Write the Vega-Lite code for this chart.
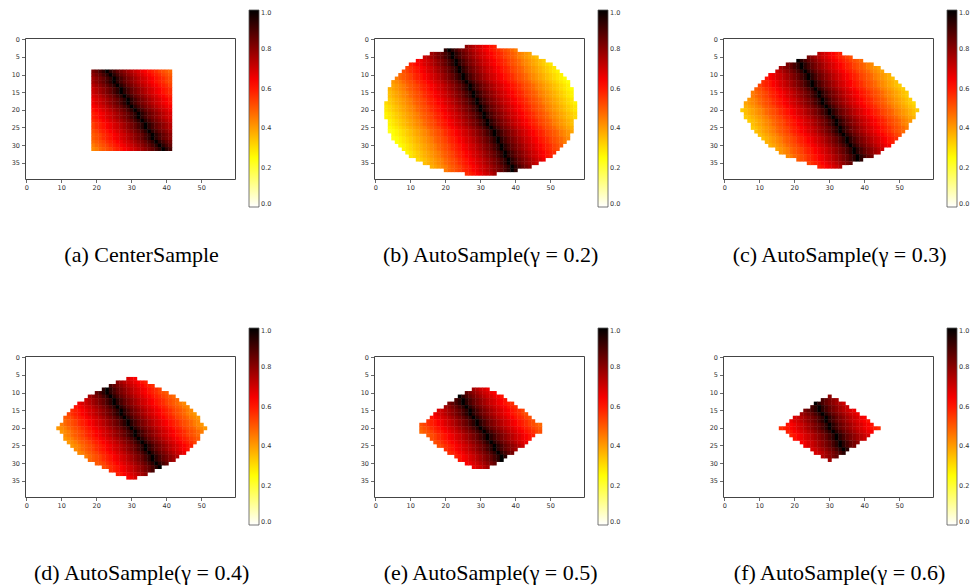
{
"$schema": "https://vega.github.io/schema/vega-lite/v6.json",
"background": "white",
"padding": {"left": 10, "top": 9, "right": 0, "bottom": 0},
"config": {
"view": {"stroke": "#444", "strokeWidth": 1},
"axis": {"domain": false, "grid": false, "labelFont": "DejaVu Sans", "labelFontSize": 6.5, "labelColor": "#333", "tickColor": "#444", "tickSize": 3.5, "tickWidth": 0.8, "labelPadding": 2},
"axisX": {"labelAngle": 0},
"legend": {"labelFont": "DejaVu Sans", "labelFontSize": 6.5, "labelColor": "#333", "gradientStrokeColor": "#555", "gradientStrokeWidth": 0.8, "labelOffset": 4, "padding": 0},
"title": {"font": "Liberation Serif", "fontSize": 22, "fontWeight": "normal", "color": "#000", "orient": "bottom", "anchor": "middle", "frame": "bounds", "offset": 37}
},
"datasets": {
"a": [
{"y":9,"v":[0,0,0,0,0,0,0,0,0,0,0,0,0,0,0,0,0,0,83,86,90,94,100,94,90,86,83,80,77,74,71,69,66,64,61,59,57,54,52,50,48]},
{"y":10,"v":[0,0,0,0,0,0,0,0,0,0,0,0,0,0,0,0,0,0,80,83,86,90,94,100,94,90,86,83,80,77,74,71,69,66,64,61,59,57,54,52,50]},
{"y":11,"v":[0,0,0,0,0,0,0,0,0,0,0,0,0,0,0,0,0,0,77,80,83,86,90,94,100,94,90,86,83,80,77,74,71,69,66,64,61,59,57,54,52]},
{"y":12,"v":[0,0,0,0,0,0,0,0,0,0,0,0,0,0,0,0,0,0,77,80,83,86,90,94,100,94,90,86,83,80,77,74,71,69,66,64,61,59,57,54,52]},
{"y":13,"v":[0,0,0,0,0,0,0,0,0,0,0,0,0,0,0,0,0,0,74,77,80,83,86,90,94,100,94,90,86,83,80,77,74,71,69,66,64,61,59,57,54]},
{"y":14,"v":[0,0,0,0,0,0,0,0,0,0,0,0,0,0,0,0,0,0,71,74,77,80,83,86,90,94,100,94,90,86,83,80,77,74,71,69,66,64,61,59,57]},
{"y":15,"v":[0,0,0,0,0,0,0,0,0,0,0,0,0,0,0,0,0,0,71,74,77,80,83,86,90,94,100,94,90,86,83,80,77,74,71,69,66,64,61,59,57]},
{"y":16,"v":[0,0,0,0,0,0,0,0,0,0,0,0,0,0,0,0,0,0,69,71,74,77,80,83,86,90,94,100,94,90,86,83,80,77,74,71,69,66,64,61,59]},
{"y":17,"v":[0,0,0,0,0,0,0,0,0,0,0,0,0,0,0,0,0,0,66,69,71,74,77,80,83,86,90,94,100,94,90,86,83,80,77,74,71,69,66,64,61]},
{"y":18,"v":[0,0,0,0,0,0,0,0,0,0,0,0,0,0,0,0,0,0,66,69,71,74,77,80,83,86,90,94,100,94,90,86,83,80,77,74,71,69,66,64,61]},
{"y":19,"v":[0,0,0,0,0,0,0,0,0,0,0,0,0,0,0,0,0,0,64,66,69,71,74,77,80,83,86,90,94,100,94,90,86,83,80,77,74,71,69,66,64]},
{"y":20,"v":[0,0,0,0,0,0,0,0,0,0,0,0,0,0,0,0,0,0,61,64,66,69,71,74,77,80,83,86,90,94,100,94,90,86,83,80,77,74,71,69,66]},
{"y":21,"v":[0,0,0,0,0,0,0,0,0,0,0,0,0,0,0,0,0,0,59,61,64,66,69,71,74,77,80,83,86,90,94,100,94,90,86,83,80,77,74,71,69]},
{"y":22,"v":[0,0,0,0,0,0,0,0,0,0,0,0,0,0,0,0,0,0,59,61,64,66,69,71,74,77,80,83,86,90,94,100,94,90,86,83,80,77,74,71,69]},
{"y":23,"v":[0,0,0,0,0,0,0,0,0,0,0,0,0,0,0,0,0,0,57,59,61,64,66,69,71,74,77,80,83,86,90,94,100,94,90,86,83,80,77,74,71]},
{"y":24,"v":[0,0,0,0,0,0,0,0,0,0,0,0,0,0,0,0,0,0,54,57,59,61,64,66,69,71,74,77,80,83,86,90,94,100,94,90,86,83,80,77,74]},
{"y":25,"v":[0,0,0,0,0,0,0,0,0,0,0,0,0,0,0,0,0,0,54,57,59,61,64,66,69,71,74,77,80,83,86,90,94,100,94,90,86,83,80,77,74]},
{"y":26,"v":[0,0,0,0,0,0,0,0,0,0,0,0,0,0,0,0,0,0,52,54,57,59,61,64,66,69,71,74,77,80,83,86,90,94,100,94,90,86,83,80,77]},
{"y":27,"v":[0,0,0,0,0,0,0,0,0,0,0,0,0,0,0,0,0,0,50,52,54,57,59,61,64,66,69,71,74,77,80,83,86,90,94,100,94,90,86,83,80]},
{"y":28,"v":[0,0,0,0,0,0,0,0,0,0,0,0,0,0,0,0,0,0,50,52,54,57,59,61,64,66,69,71,74,77,80,83,86,90,94,100,94,90,86,83,80]},
{"y":29,"v":[0,0,0,0,0,0,0,0,0,0,0,0,0,0,0,0,0,0,48,50,52,54,57,59,61,64,66,69,71,74,77,80,83,86,90,94,100,94,90,86,83]},
{"y":30,"v":[0,0,0,0,0,0,0,0,0,0,0,0,0,0,0,0,0,0,45,48,50,52,54,57,59,61,64,66,69,71,74,77,80,83,86,90,94,100,94,90,86]},
{"y":31,"v":[0,0,0,0,0,0,0,0,0,0,0,0,0,0,0,0,0,0,43,45,48,50,52,54,57,59,61,64,66,69,71,74,77,80,83,86,90,94,100,94,90]}
],
"b": [
{"y":2,"v":[0,0,0,0,0,0,0,0,0,0,0,0,0,0,0,0,0,0,0,0,0,0,0,0,0,80,77,74,71,69,66,64,61,59]},
{"y":3,"v":[0,0,0,0,0,0,0,0,0,0,0,0,0,0,0,0,0,0,0,94,100,94,90,86,83,80,77,74,71,69,66,64,61,59,57,54,52,50,48,45]},
{"y":4,"v":[0,0,0,0,0,0,0,0,0,0,0,0,0,0,0,77,80,83,86,90,94,100,94,90,86,83,80,77,74,71,69,66,64,61,59,57,54,52,50,48,45,43,41,39]},
{"y":5,"v":[0,0,0,0,0,0,0,0,0,0,0,0,0,71,74,77,80,83,86,90,94,100,94,90,86,83,80,77,74,71,69,66,64,61,59,57,54,52,50,48,45,43,41,39,37,35]},
{"y":6,"v":[0,0,0,0,0,0,0,0,0,0,0,64,66,69,71,74,77,80,83,86,90,94,100,94,90,86,83,80,77,74,71,69,66,64,61,59,57,54,52,50,48,45,43,41,39,37,35,33]},
{"y":7,"v":[0,0,0,0,0,0,0,0,0,59,61,64,66,69,71,74,77,80,83,86,90,94,100,94,90,86,83,80,77,74,71,69,66,64,61,59,57,54,52,50,48,45,43,41,39,37,35,33,31,29]},
{"y":8,"v":[0,0,0,0,0,0,0,0,54,57,59,61,64,66,69,71,74,77,80,83,86,90,94,100,94,90,86,83,80,77,74,71,69,66,64,61,59,57,54,52,50,48,45,43,41,39,37,35,33,31,29]},
{"y":9,"v":[0,0,0,0,0,0,0,52,54,57,59,61,64,66,69,71,74,77,80,83,86,90,94,100,94,90,86,83,80,77,74,71,69,66,64,61,59,57,54,52,50,48,45,43,41,39,37,35,33,31,29,27]},
{"y":10,"v":[0,0,0,0,0,0,48,50,52,54,57,59,61,64,66,69,71,74,77,80,83,86,90,94,100,94,90,86,83,80,77,74,71,69,66,64,61,59,57,54,52,50,48,45,43,41,39,37,35,33,31,29,27]},
{"y":11,"v":[0,0,0,0,0,45,48,50,52,54,57,59,61,64,66,69,71,74,77,80,83,86,90,94,100,94,90,86,83,80,77,74,71,69,66,64,61,59,57,54,52,50,48,45,43,41,39,37,35,33,31,29,27,25]},
{"y":12,"v":[0,0,0,0,41,43,45,48,50,52,54,57,59,61,64,66,69,71,74,77,80,83,86,90,94,100,94,90,86,83,80,77,74,71,69,66,64,61,59,57,54,52,50,48,45,43,41,39,37,35,33,31,29,27,25]},
{"y":13,"v":[0,0,0,0,39,41,43,45,48,50,52,54,57,59,61,64,66,69,71,74,77,80,83,86,90,94,100,94,90,86,83,80,77,74,71,69,66,64,61,59,57,54,52,50,48,45,43,41,39,37,35,33,31,29,27]},
{"y":14,"v":[0,0,0,37,39,41,43,45,48,50,52,54,57,59,61,64,66,69,71,74,77,80,83,86,90,94,100,94,90,86,83,80,77,74,71,69,66,64,61,59,57,54,52,50,48,45,43,41,39,37,35,33,31,29,27,25]},
{"y":15,"v":[0,0,0,35,37,39,41,43,45,48,50,52,54,57,59,61,64,66,69,71,74,77,80,83,86,90,94,100,94,90,86,83,80,77,74,71,69,66,64,61,59,57,54,52,50,48,45,43,41,39,37,35,33,31,29,27]},
{"y":16,"v":[0,0,0,35,37,39,41,43,45,48,50,52,54,57,59,61,64,66,69,71,74,77,80,83,86,90,94,100,94,90,86,83,80,77,74,71,69,66,64,61,59,57,54,52,50,48,45,43,41,39,37,35,33,31,29,27]},
{"y":17,"v":[0,0,0,33,35,37,39,41,43,45,48,50,52,54,57,59,61,64,66,69,71,74,77,80,83,86,90,94,100,94,90,86,83,80,77,74,71,69,66,64,61,59,57,54,52,50,48,45,43,41,39,37,35,33,31,29]},
{"y":18,"v":[0,0,31,33,35,37,39,41,43,45,48,50,52,54,57,59,61,64,66,69,71,74,77,80,83,86,90,94,100,94,90,86,83,80,77,74,71,69,66,64,61,59,57,54,52,50,48,45,43,41,39,37,35,33,31,29,27]},
{"y":19,"v":[0,0,29,31,33,35,37,39,41,43,45,48,50,52,54,57,59,61,64,66,69,71,74,77,80,83,86,90,94,100,94,90,86,83,80,77,74,71,69,66,64,61,59,57,54,52,50,48,45,43,41,39,37,35,33,31,29]},
{"y":20,"v":[0,0,29,31,33,35,37,39,41,43,45,48,50,52,54,57,59,61,64,66,69,71,74,77,80,83,86,90,94,100,94,90,86,83,80,77,74,71,69,66,64,61,59,57,54,52,50,48,45,43,41,39,37,35,33,31,29]},
{"y":21,"v":[0,0,27,29,31,33,35,37,39,41,43,45,48,50,52,54,57,59,61,64,66,69,71,74,77,80,83,86,90,94,100,94,90,86,83,80,77,74,71,69,66,64,61,59,57,54,52,50,48,45,43,41,39,37,35,33,31]},
{"y":22,"v":[0,0,27,29,31,33,35,37,39,41,43,45,48,50,52,54,57,59,61,64,66,69,71,74,77,80,83,86,90,94,100,94,90,86,83,80,77,74,71,69,66,64,61,59,57,54,52,50,48,45,43,41,39,37,35,33,31]},
{"y":23,"v":[0,0,0,27,29,31,33,35,37,39,41,43,45,48,50,52,54,57,59,61,64,66,69,71,74,77,80,83,86,90,94,100,94,90,86,83,80,77,74,71,69,66,64,61,59,57,54,52,50,48,45,43,41,39,37,35]},
{"y":24,"v":[0,0,0,27,29,31,33,35,37,39,41,43,45,48,50,52,54,57,59,61,64,66,69,71,74,77,80,83,86,90,94,100,94,90,86,83,80,77,74,71,69,66,64,61,59,57,54,52,50,48,45,43,41,39,37,35]},
{"y":25,"v":[0,0,0,25,27,29,31,33,35,37,39,41,43,45,48,50,52,54,57,59,61,64,66,69,71,74,77,80,83,86,90,94,100,94,90,86,83,80,77,74,71,69,66,64,61,59,57,54,52,50,48,45,43,41,39,37]},
{"y":26,"v":[0,0,0,23,25,27,29,31,33,35,37,39,41,43,45,48,50,52,54,57,59,61,64,66,69,71,74,77,80,83,86,90,94,100,94,90,86,83,80,77,74,71,69,66,64,61,59,57,54,52,50,48,45,43,41,39]},
{"y":27,"v":[0,0,0,0,25,27,29,31,33,35,37,39,41,43,45,48,50,52,54,57,59,61,64,66,69,71,74,77,80,83,86,90,94,100,94,90,86,83,80,77,74,71,69,66,64,61,59,57,54,52,50,48,45,43,41]},
{"y":28,"v":[0,0,0,0,23,25,27,29,31,33,35,37,39,41,43,45,48,50,52,54,57,59,61,64,66,69,71,74,77,80,83,86,90,94,100,94,90,86,83,80,77,74,71,69,66,64,61,59,57,54,52,50,48,45,43]},
{"y":29,"v":[0,0,0,0,0,25,27,29,31,33,35,37,39,41,43,45,48,50,52,54,57,59,61,64,66,69,71,74,77,80,83,86,90,94,100,94,90,86,83,80,77,74,71,69,66,64,61,59,57,54,52,50,48,45]},
{"y":30,"v":[0,0,0,0,0,0,25,27,29,31,33,35,37,39,41,43,45,48,50,52,54,57,59,61,64,66,69,71,74,77,80,83,86,90,94,100,94,90,86,83,80,77,74,71,69,66,64,61,59,57,54,52,50]},
{"y":31,"v":[0,0,0,0,0,0,0,27,29,31,33,35,37,39,41,43,45,48,50,52,54,57,59,61,64,66,69,71,74,77,80,83,86,90,94,100,94,90,86,83,80,77,74,71,69,66,64,61,59,57,54,52]},
{"y":32,"v":[0,0,0,0,0,0,0,0,27,29,31,33,35,37,39,41,43,45,48,50,52,54,57,59,61,64,66,69,71,74,77,80,83,86,90,94,100,94,90,86,83,80,77,74,71,69,66,64,61,59,57]},
{"y":33,"v":[0,0,0,0,0,0,0,0,0,29,31,33,35,37,39,41,43,45,48,50,52,54,57,59,61,64,66,69,71,74,77,80,83,86,90,94,100,94,90,86,83,80,77,74,71,69,66,64,61,59]},
{"y":34,"v":[0,0,0,0,0,0,0,0,0,0,0,31,33,35,37,39,41,43,45,48,50,52,54,57,59,61,64,66,69,71,74,77,80,83,86,90,94,100,94,90,86,83,80,77,74,71,69,66]},
{"y":35,"v":[0,0,0,0,0,0,0,0,0,0,0,0,0,35,37,39,41,43,45,48,50,52,54,57,59,61,64,66,69,71,74,77,80,83,86,90,94,100,94,90,86,83,80,77,74,71]},
{"y":36,"v":[0,0,0,0,0,0,0,0,0,0,0,0,0,0,0,37,39,41,43,45,48,50,52,54,57,59,61,64,66,69,71,74,77,80,83,86,90,94,100,94,90,86,83,80]},
{"y":37,"v":[0,0,0,0,0,0,0,0,0,0,0,0,0,0,0,0,0,0,0,45,48,50,52,54,57,59,61,64,66,69,71,74,77,80,83,86,90,94,100,94]},
{"y":38,"v":[0,0,0,0,0,0,0,0,0,0,0,0,0,0,0,0,0,0,0,0,0,0,0,0,0,57,59,61,64,66,69,71,74,77]}
],
"c": [
{"y":4,"v":[0,0,0,0,0,0,0,0,0,0,0,0,0,0,0,0,0,0,0,0,0,0,0,0,0,0,74,71,69,66,64,61,59]},
{"y":5,"v":[0,0,0,0,0,0,0,0,0,0,0,0,0,0,0,0,0,0,0,0,0,0,0,83,80,77,74,71,69,66,64,61,59,57,54,52]},
{"y":6,"v":[0,0,0,0,0,0,0,0,0,0,0,0,0,0,0,0,0,0,0,0,100,94,90,86,83,80,77,74,71,69,66,64,61,59,57,54,52,50,48]},
{"y":7,"v":[0,0,0,0,0,0,0,0,0,0,0,0,0,0,0,0,0,83,86,90,94,100,94,90,86,83,80,77,74,71,69,66,64,61,59,57,54,52,50,48,45,43]},
{"y":8,"v":[0,0,0,0,0,0,0,0,0,0,0,0,0,0,0,77,80,83,86,90,94,100,94,90,86,83,80,77,74,71,69,66,64,61,59,57,54,52,50,48,45,43,41,39]},
{"y":9,"v":[0,0,0,0,0,0,0,0,0,0,0,0,0,0,71,74,77,80,83,86,90,94,100,94,90,86,83,80,77,74,71,69,66,64,61,59,57,54,52,50,48,45,43,41,39]},
{"y":10,"v":[0,0,0,0,0,0,0,0,0,0,0,0,64,66,69,71,74,77,80,83,86,90,94,100,94,90,86,83,80,77,74,71,69,66,64,61,59,57,54,52,50,48,45,43,41,39,37]},
{"y":11,"v":[0,0,0,0,0,0,0,0,0,0,0,61,64,66,69,71,74,77,80,83,86,90,94,100,94,90,86,83,80,77,74,71,69,66,64,61,59,57,54,52,50,48,45,43,41,39,37,35]},
{"y":12,"v":[0,0,0,0,0,0,0,0,0,0,57,59,61,64,66,69,71,74,77,80,83,86,90,94,100,94,90,86,83,80,77,74,71,69,66,64,61,59,57,54,52,50,48,45,43,41,39,37,35]},
{"y":13,"v":[0,0,0,0,0,0,0,0,0,54,57,59,61,64,66,69,71,74,77,80,83,86,90,94,100,94,90,86,83,80,77,74,71,69,66,64,61,59,57,54,52,50,48,45,43,41,39,37,35,33]},
{"y":14,"v":[0,0,0,0,0,0,0,0,50,52,54,57,59,61,64,66,69,71,74,77,80,83,86,90,94,100,94,90,86,83,80,77,74,71,69,66,64,61,59,57,54,52,50,48,45,43,41,39,37,35,33]},
{"y":15,"v":[0,0,0,0,0,0,0,45,48,50,52,54,57,59,61,64,66,69,71,74,77,80,83,86,90,94,100,94,90,86,83,80,77,74,71,69,66,64,61,59,57,54,52,50,48,45,43,41,39,37,35,33]},
{"y":16,"v":[0,0,0,0,0,0,0,45,48,50,52,54,57,59,61,64,66,69,71,74,77,80,83,86,90,94,100,94,90,86,83,80,77,74,71,69,66,64,61,59,57,54,52,50,48,45,43,41,39,37,35,33]},
{"y":17,"v":[0,0,0,0,0,0,41,43,45,48,50,52,54,57,59,61,64,66,69,71,74,77,80,83,86,90,94,100,94,90,86,83,80,77,74,71,69,66,64,61,59,57,54,52,50,48,45,43,41,39,37,35,33]},
{"y":18,"v":[0,0,0,0,0,39,41,43,45,48,50,52,54,57,59,61,64,66,69,71,74,77,80,83,86,90,94,100,94,90,86,83,80,77,74,71,69,66,64,61,59,57,54,52,50,48,45,43,41,39,37,35,33,31]},
{"y":19,"v":[0,0,0,0,0,37,39,41,43,45,48,50,52,54,57,59,61,64,66,69,71,74,77,80,83,86,90,94,100,94,90,86,83,80,77,74,71,69,66,64,61,59,57,54,52,50,48,45,43,41,39,37,35,33]},
{"y":20,"v":[0,0,0,0,33,35,37,39,41,43,45,48,50,52,54,57,59,61,64,66,69,71,74,77,80,83,86,90,94,100,94,90,86,83,80,77,74,71,69,66,64,61,59,57,54,52,50,48,45,43,41,39,37,35,33]},
{"y":21,"v":[0,0,0,0,0,35,37,39,41,43,45,48,50,52,54,57,59,61,64,66,69,71,74,77,80,83,86,90,94,100,94,90,86,83,80,77,74,71,69,66,64,61,59,57,54,52,50,48,45,43,41,39,37,35]},
{"y":22,"v":[0,0,0,0,0,33,35,37,39,41,43,45,48,50,52,54,57,59,61,64,66,69,71,74,77,80,83,86,90,94,100,94,90,86,83,80,77,74,71,69,66,64,61,59,57,54,52,50,48,45,43,41,39,37]},
{"y":23,"v":[0,0,0,0,0,0,33,35,37,39,41,43,45,48,50,52,54,57,59,61,64,66,69,71,74,77,80,83,86,90,94,100,94,90,86,83,80,77,74,71,69,66,64,61,59,57,54,52,50,48,45,43,41]},
{"y":24,"v":[0,0,0,0,0,0,0,35,37,39,41,43,45,48,50,52,54,57,59,61,64,66,69,71,74,77,80,83,86,90,94,100,94,90,86,83,80,77,74,71,69,66,64,61,59,57,54,52,50,48,45,43]},
{"y":25,"v":[0,0,0,0,0,0,0,33,35,37,39,41,43,45,48,50,52,54,57,59,61,64,66,69,71,74,77,80,83,86,90,94,100,94,90,86,83,80,77,74,71,69,66,64,61,59,57,54,52,50,48,45]},
{"y":26,"v":[0,0,0,0,0,0,0,0,35,37,39,41,43,45,48,50,52,54,57,59,61,64,66,69,71,74,77,80,83,86,90,94,100,94,90,86,83,80,77,74,71,69,66,64,61,59,57,54,52,50,48]},
{"y":27,"v":[0,0,0,0,0,0,0,0,0,35,37,39,41,43,45,48,50,52,54,57,59,61,64,66,69,71,74,77,80,83,86,90,94,100,94,90,86,83,80,77,74,71,69,66,64,61,59,57,54,52]},
{"y":28,"v":[0,0,0,0,0,0,0,0,0,0,35,37,39,41,43,45,48,50,52,54,57,59,61,64,66,69,71,74,77,80,83,86,90,94,100,94,90,86,83,80,77,74,71,69,66,64,61,59,57]},
{"y":29,"v":[0,0,0,0,0,0,0,0,0,0,0,37,39,41,43,45,48,50,52,54,57,59,61,64,66,69,71,74,77,80,83,86,90,94,100,94,90,86,83,80,77,74,71,69,66,64,61,59]},
{"y":30,"v":[0,0,0,0,0,0,0,0,0,0,0,0,37,39,41,43,45,48,50,52,54,57,59,61,64,66,69,71,74,77,80,83,86,90,94,100,94,90,86,83,80,77,74,71,69,66,64]},
{"y":31,"v":[0,0,0,0,0,0,0,0,0,0,0,0,0,0,39,41,43,45,48,50,52,54,57,59,61,64,66,69,71,74,77,80,83,86,90,94,100,94,90,86,83,80,77,74,71]},
{"y":32,"v":[0,0,0,0,0,0,0,0,0,0,0,0,0,0,0,41,43,45,48,50,52,54,57,59,61,64,66,69,71,74,77,80,83,86,90,94,100,94,90,86,83,80,77,74]},
{"y":33,"v":[0,0,0,0,0,0,0,0,0,0,0,0,0,0,0,0,0,43,45,48,50,52,54,57,59,61,64,66,69,71,74,77,80,83,86,90,94,100,94,90,86,83]},
{"y":34,"v":[0,0,0,0,0,0,0,0,0,0,0,0,0,0,0,0,0,0,0,0,50,52,54,57,59,61,64,66,69,71,74,77,80,83,86,90,94,100,94]},
{"y":35,"v":[0,0,0,0,0,0,0,0,0,0,0,0,0,0,0,0,0,0,0,0,0,0,0,54,57,59,61,64,66,69,71,74,77,80,83,86]},
{"y":36,"v":[0,0,0,0,0,0,0,0,0,0,0,0,0,0,0,0,0,0,0,0,0,0,0,0,0,0,59,61,64,66,69,71,74]}
],
"d": [
{"y":6,"v":[0,0,0,0,0,0,0,0,0,0,0,0,0,0,0,0,0,0,0,0,0,0,0,0,0,0,0,0,69,66,64]},
{"y":7,"v":[0,0,0,0,0,0,0,0,0,0,0,0,0,0,0,0,0,0,0,0,0,0,0,0,0,80,77,74,71,69,66,64,61,59]},
{"y":8,"v":[0,0,0,0,0,0,0,0,0,0,0,0,0,0,0,0,0,0,0,0,0,0,0,90,86,83,80,77,74,71,69,66,64,61,59,57]},
{"y":9,"v":[0,0,0,0,0,0,0,0,0,0,0,0,0,0,0,0,0,0,0,0,0,94,100,94,90,86,83,80,77,74,71,69,66,64,61,59,57,54]},
{"y":10,"v":[0,0,0,0,0,0,0,0,0,0,0,0,0,0,0,0,0,0,0,86,90,94,100,94,90,86,83,80,77,74,71,69,66,64,61,59,57,54,52,50]},
{"y":11,"v":[0,0,0,0,0,0,0,0,0,0,0,0,0,0,0,0,0,77,80,83,86,90,94,100,94,90,86,83,80,77,74,71,69,66,64,61,59,57,54,52,50,48]},
{"y":12,"v":[0,0,0,0,0,0,0,0,0,0,0,0,0,0,0,0,71,74,77,80,83,86,90,94,100,94,90,86,83,80,77,74,71,69,66,64,61,59,57,54,52,50,48]},
{"y":13,"v":[0,0,0,0,0,0,0,0,0,0,0,0,0,0,66,69,71,74,77,80,83,86,90,94,100,94,90,86,83,80,77,74,71,69,66,64,61,59,57,54,52,50,48,45,43]},
{"y":14,"v":[0,0,0,0,0,0,0,0,0,0,0,0,0,61,64,66,69,71,74,77,80,83,86,90,94,100,94,90,86,83,80,77,74,71,69,66,64,61,59,57,54,52,50,48,45,43]},
{"y":15,"v":[0,0,0,0,0,0,0,0,0,0,0,0,57,59,61,64,66,69,71,74,77,80,83,86,90,94,100,94,90,86,83,80,77,74,71,69,66,64,61,59,57,54,52,50,48,45,43]},
{"y":16,"v":[0,0,0,0,0,0,0,0,0,0,0,54,57,59,61,64,66,69,71,74,77,80,83,86,90,94,100,94,90,86,83,80,77,74,71,69,66,64,61,59,57,54,52,50,48,45,43,41]},
{"y":17,"v":[0,0,0,0,0,0,0,0,0,0,50,52,54,57,59,61,64,66,69,71,74,77,80,83,86,90,94,100,94,90,86,83,80,77,74,71,69,66,64,61,59,57,54,52,50,48,45,43,41]},
{"y":18,"v":[0,0,0,0,0,0,0,0,0,0,48,50,52,54,57,59,61,64,66,69,71,74,77,80,83,86,90,94,100,94,90,86,83,80,77,74,71,69,66,64,61,59,57,54,52,50,48,45,43]},
{"y":19,"v":[0,0,0,0,0,0,0,0,0,45,48,50,52,54,57,59,61,64,66,69,71,74,77,80,83,86,90,94,100,94,90,86,83,80,77,74,71,69,66,64,61,59,57,54,52,50,48,45,43,41]},
{"y":20,"v":[0,0,0,0,0,0,0,0,41,43,45,48,50,52,54,57,59,61,64,66,69,71,74,77,80,83,86,90,94,100,94,90,86,83,80,77,74,71,69,66,64,61,59,57,54,52,50,48,45,43,41]},
{"y":21,"v":[0,0,0,0,0,0,0,0,0,41,43,45,48,50,52,54,57,59,61,64,66,69,71,74,77,80,83,86,90,94,100,94,90,86,83,80,77,74,71,69,66,64,61,59,57,54,52,50,48,45]},
{"y":22,"v":[0,0,0,0,0,0,0,0,0,0,43,45,48,50,52,54,57,59,61,64,66,69,71,74,77,80,83,86,90,94,100,94,90,86,83,80,77,74,71,69,66,64,61,59,57,54,52,50,48]},
{"y":23,"v":[0,0,0,0,0,0,0,0,0,0,41,43,45,48,50,52,54,57,59,61,64,66,69,71,74,77,80,83,86,90,94,100,94,90,86,83,80,77,74,71,69,66,64,61,59,57,54,52,50]},
{"y":24,"v":[0,0,0,0,0,0,0,0,0,0,0,41,43,45,48,50,52,54,57,59,61,64,66,69,71,74,77,80,83,86,90,94,100,94,90,86,83,80,77,74,71,69,66,64,61,59,57,54]},
{"y":25,"v":[0,0,0,0,0,0,0,0,0,0,0,0,41,43,45,48,50,52,54,57,59,61,64,66,69,71,74,77,80,83,86,90,94,100,94,90,86,83,80,77,74,71,69,66,64,61,59]},
{"y":26,"v":[0,0,0,0,0,0,0,0,0,0,0,0,0,43,45,48,50,52,54,57,59,61,64,66,69,71,74,77,80,83,86,90,94,100,94,90,86,83,80,77,74,71,69,66,64,61]},
{"y":27,"v":[0,0,0,0,0,0,0,0,0,0,0,0,0,0,43,45,48,50,52,54,57,59,61,64,66,69,71,74,77,80,83,86,90,94,100,94,90,86,83,80,77,74,71,69,66]},
{"y":28,"v":[0,0,0,0,0,0,0,0,0,0,0,0,0,0,0,0,45,48,50,52,54,57,59,61,64,66,69,71,74,77,80,83,86,90,94,100,94,90,86,83,80,77,74]},
{"y":29,"v":[0,0,0,0,0,0,0,0,0,0,0,0,0,0,0,0,0,48,50,52,54,57,59,61,64,66,69,71,74,77,80,83,86,90,94,100,94,90,86,83,80,77]},
{"y":30,"v":[0,0,0,0,0,0,0,0,0,0,0,0,0,0,0,0,0,0,0,50,52,54,57,59,61,64,66,69,71,74,77,80,83,86,90,94,100,94,90,86]},
{"y":31,"v":[0,0,0,0,0,0,0,0,0,0,0,0,0,0,0,0,0,0,0,0,0,52,54,57,59,61,64,66,69,71,74,77,80,83,86,90,94,100]},
{"y":32,"v":[0,0,0,0,0,0,0,0,0,0,0,0,0,0,0,0,0,0,0,0,0,0,0,57,59,61,64,66,69,71,74,77,80,83,86,90]},
{"y":33,"v":[0,0,0,0,0,0,0,0,0,0,0,0,0,0,0,0,0,0,0,0,0,0,0,0,0,59,61,64,66,69,71,74,77,80]},
{"y":34,"v":[0,0,0,0,0,0,0,0,0,0,0,0,0,0,0,0,0,0,0,0,0,0,0,0,0,0,0,0,64,66,69]}
],
"e": [
{"y":9,"v":[0,0,0,0,0,0,0,0,0,0,0,0,0,0,0,0,0,0,0,0,0,0,0,0,0,0,0,77,74,71,69,66]},
{"y":10,"v":[0,0,0,0,0,0,0,0,0,0,0,0,0,0,0,0,0,0,0,0,0,0,0,0,0,86,83,80,77,74,71,69,66,64]},
{"y":11,"v":[0,0,0,0,0,0,0,0,0,0,0,0,0,0,0,0,0,0,0,0,0,0,0,100,94,90,86,83,80,77,74,71,69,66,64,61]},
{"y":12,"v":[0,0,0,0,0,0,0,0,0,0,0,0,0,0,0,0,0,0,0,0,0,0,90,94,100,94,90,86,83,80,77,74,71,69,66,64,61]},
{"y":13,"v":[0,0,0,0,0,0,0,0,0,0,0,0,0,0,0,0,0,0,0,0,83,86,90,94,100,94,90,86,83,80,77,74,71,69,66,64,61,59,57]},
{"y":14,"v":[0,0,0,0,0,0,0,0,0,0,0,0,0,0,0,0,0,0,0,77,80,83,86,90,94,100,94,90,86,83,80,77,74,71,69,66,64,61,59,57]},
{"y":15,"v":[0,0,0,0,0,0,0,0,0,0,0,0,0,0,0,0,0,69,71,74,77,80,83,86,90,94,100,94,90,86,83,80,77,74,71,69,66,64,61,59,57,54]},
{"y":16,"v":[0,0,0,0,0,0,0,0,0,0,0,0,0,0,0,0,66,69,71,74,77,80,83,86,90,94,100,94,90,86,83,80,77,74,71,69,66,64,61,59,57,54,52]},
{"y":17,"v":[0,0,0,0,0,0,0,0,0,0,0,0,0,0,0,61,64,66,69,71,74,77,80,83,86,90,94,100,94,90,86,83,80,77,74,71,69,66,64,61,59,57,54,52]},
{"y":18,"v":[0,0,0,0,0,0,0,0,0,0,0,0,0,0,57,59,61,64,66,69,71,74,77,80,83,86,90,94,100,94,90,86,83,80,77,74,71,69,66,64,61,59,57,54,52]},
{"y":19,"v":[0,0,0,0,0,0,0,0,0,0,0,0,52,54,57,59,61,64,66,69,71,74,77,80,83,86,90,94,100,94,90,86,83,80,77,74,71,69,66,64,61,59,57,54,52,50,48]},
{"y":20,"v":[0,0,0,0,0,0,0,0,0,0,0,0,50,52,54,57,59,61,64,66,69,71,74,77,80,83,86,90,94,100,94,90,86,83,80,77,74,71,69,66,64,61,59,57,54,52,50]},
{"y":21,"v":[0,0,0,0,0,0,0,0,0,0,0,0,48,50,52,54,57,59,61,64,66,69,71,74,77,80,83,86,90,94,100,94,90,86,83,80,77,74,71,69,66,64,61,59,57,54,52]},
{"y":22,"v":[0,0,0,0,0,0,0,0,0,0,0,0,0,0,50,52,54,57,59,61,64,66,69,71,74,77,80,83,86,90,94,100,94,90,86,83,80,77,74,71,69,66,64,61,59]},
{"y":23,"v":[0,0,0,0,0,0,0,0,0,0,0,0,0,0,0,52,54,57,59,61,64,66,69,71,74,77,80,83,86,90,94,100,94,90,86,83,80,77,74,71,69,66,64,61]},
{"y":24,"v":[0,0,0,0,0,0,0,0,0,0,0,0,0,0,0,0,52,54,57,59,61,64,66,69,71,74,77,80,83,86,90,94,100,94,90,86,83,80,77,74,71,69,66]},
{"y":25,"v":[0,0,0,0,0,0,0,0,0,0,0,0,0,0,0,0,0,52,54,57,59,61,64,66,69,71,74,77,80,83,86,90,94,100,94,90,86,83,80,77,74,71]},
{"y":26,"v":[0,0,0,0,0,0,0,0,0,0,0,0,0,0,0,0,0,0,0,57,59,61,64,66,69,71,74,77,80,83,86,90,94,100,94,90,86,83,80,77]},
{"y":27,"v":[0,0,0,0,0,0,0,0,0,0,0,0,0,0,0,0,0,0,0,0,57,59,61,64,66,69,71,74,77,80,83,86,90,94,100,94,90,86,83]},
{"y":28,"v":[0,0,0,0,0,0,0,0,0,0,0,0,0,0,0,0,0,0,0,0,0,0,59,61,64,66,69,71,74,77,80,83,86,90,94,100,94]},
{"y":29,"v":[0,0,0,0,0,0,0,0,0,0,0,0,0,0,0,0,0,0,0,0,0,0,0,61,64,66,69,71,74,77,80,83,86,90,94,100]},
{"y":30,"v":[0,0,0,0,0,0,0,0,0,0,0,0,0,0,0,0,0,0,0,0,0,0,0,0,0,64,66,69,71,74,77,80,83,86]},
{"y":31,"v":[0,0,0,0,0,0,0,0,0,0,0,0,0,0,0,0,0,0,0,0,0,0,0,0,0,0,0,66,69,71,74,77]}
],
"f": [
{"y":11,"v":[0,0,0,0,0,0,0,0,0,0,0,0,0,0,0,0,0,0,0,0,0,0,0,0,0,0,0,0,0,80]},
{"y":12,"v":[0,0,0,0,0,0,0,0,0,0,0,0,0,0,0,0,0,0,0,0,0,0,0,0,0,0,0,90,86,83,80,77]},
{"y":13,"v":[0,0,0,0,0,0,0,0,0,0,0,0,0,0,0,0,0,0,0,0,0,0,0,0,0,100,94,90,86,83,80,77,74,71]},
{"y":14,"v":[0,0,0,0,0,0,0,0,0,0,0,0,0,0,0,0,0,0,0,0,0,0,0,0,90,94,100,94,90,86,83,80,77,74,71]},
{"y":15,"v":[0,0,0,0,0,0,0,0,0,0,0,0,0,0,0,0,0,0,0,0,0,0,83,86,90,94,100,94,90,86,83,80,77,74,71,69,66]},
{"y":16,"v":[0,0,0,0,0,0,0,0,0,0,0,0,0,0,0,0,0,0,0,0,0,77,80,83,86,90,94,100,94,90,86,83,80,77,74,71,69,66]},
{"y":17,"v":[0,0,0,0,0,0,0,0,0,0,0,0,0,0,0,0,0,0,0,69,71,74,77,80,83,86,90,94,100,94,90,86,83,80,77,74,71,69,66,64]},
{"y":18,"v":[0,0,0,0,0,0,0,0,0,0,0,0,0,0,0,0,0,0,66,69,71,74,77,80,83,86,90,94,100,94,90,86,83,80,77,74,71,69,66,64,61]},
{"y":19,"v":[0,0,0,0,0,0,0,0,0,0,0,0,0,0,0,0,0,61,64,66,69,71,74,77,80,83,86,90,94,100,94,90,86,83,80,77,74,71,69,66,64,61]},
{"y":20,"v":[0,0,0,0,0,0,0,0,0,0,0,0,0,0,0,57,59,61,64,66,69,71,74,77,80,83,86,90,94,100,94,90,86,83,80,77,74,71,69,66,64,61,59,57]},
{"y":21,"v":[0,0,0,0,0,0,0,0,0,0,0,0,0,0,0,0,0,59,61,64,66,69,71,74,77,80,83,86,90,94,100,94,90,86,83,80,77,74,71,69,66,64]},
{"y":22,"v":[0,0,0,0,0,0,0,0,0,0,0,0,0,0,0,0,0,0,59,61,64,66,69,71,74,77,80,83,86,90,94,100,94,90,86,83,80,77,74,71,69]},
{"y":23,"v":[0,0,0,0,0,0,0,0,0,0,0,0,0,0,0,0,0,0,0,61,64,66,69,71,74,77,80,83,86,90,94,100,94,90,86,83,80,77,74,71]},
{"y":24,"v":[0,0,0,0,0,0,0,0,0,0,0,0,0,0,0,0,0,0,0,0,0,64,66,69,71,74,77,80,83,86,90,94,100,94,90,86,83,80]},
{"y":25,"v":[0,0,0,0,0,0,0,0,0,0,0,0,0,0,0,0,0,0,0,0,0,0,66,69,71,74,77,80,83,86,90,94,100,94,90,86,83]},
{"y":26,"v":[0,0,0,0,0,0,0,0,0,0,0,0,0,0,0,0,0,0,0,0,0,0,0,0,69,71,74,77,80,83,86,90,94,100,94]},
{"y":27,"v":[0,0,0,0,0,0,0,0,0,0,0,0,0,0,0,0,0,0,0,0,0,0,0,0,0,69,71,74,77,80,83,86,90,94]},
{"y":28,"v":[0,0,0,0,0,0,0,0,0,0,0,0,0,0,0,0,0,0,0,0,0,0,0,0,0,0,0,74,77,80,83,86]},
{"y":29,"v":[0,0,0,0,0,0,0,0,0,0,0,0,0,0,0,0,0,0,0,0,0,0,0,0,0,0,0,0,0,77]}
]
},
"columns": 3,
"spacing": {"row": 60, "column": 86},
"resolve": {"scale": {"color": "independent"}, "legend": {"color": "independent"}},
"concat": [
{"width":210,"height":141,"data":{"name":"a"},"title":"(a) CenterSample",
"transform":[{"flatten":["v"]},{"window":[{"op":"row_number","as":"x"}],"groupby":["y"]},{"filter":"datum.v > 0"}],
"mark":{"type":"rect","width":{"band":1.12},"height":{"band":1.12}},
"encoding":{
"x":{"field":"x","type":"ordinal","title":null,"scale":{"domain":[0,1,2,3,4,5,6,7,8,9,10,11,12,13,14,15,16,17,18,19,20,21,22,23,24,25,26,27,28,29,30,31,32,33,34,35,36,37,38,39,40,41,42,43,44,45,46,47,48,49,50,51,52,53,54,55,56,57,58,59],"paddingInner":0,"paddingOuter":0},"axis":{"values":[0,10,20,30,40,50],"labelAngle":0}},
"y":{"field":"y","type":"ordinal","title":null,"scale":{"domain":[0,1,2,3,4,5,6,7,8,9,10,11,12,13,14,15,16,17,18,19,20,21,22,23,24,25,26,27,28,29,30,31,32,33,34,35,36,37,38,39],"paddingInner":0,"paddingOuter":0},"axis":{"values":[0,5,10,15,20,25,30,35]}},
"color":{"field":"v","type":"quantitative","scale":{"domain":[0,25.4,63.5,100],"range":["#ffffff","#ffff00","#ff0000","#000000"],"interpolate":"rgb"},"legend":{"type":"gradient","title":null,"orient":"none","legendX":224,"legendY":-28,"direction":"vertical","gradientLength":197,"gradientThickness":10,"values":[0,20,40,60,80,100],"labelExpr":"format(datum.value/100,'.1f')"}}}},
{"width":210,"height":141,"data":{"name":"b"},"title":"(b) AutoSample(γ = 0.2)",
"transform":[{"flatten":["v"]},{"window":[{"op":"row_number","as":"x"}],"groupby":["y"]},{"filter":"datum.v > 0"}],
"mark":{"type":"rect","width":{"band":1.12},"height":{"band":1.12}},
"encoding":{
"x":{"field":"x","type":"ordinal","title":null,"scale":{"domain":[0,1,2,3,4,5,6,7,8,9,10,11,12,13,14,15,16,17,18,19,20,21,22,23,24,25,26,27,28,29,30,31,32,33,34,35,36,37,38,39,40,41,42,43,44,45,46,47,48,49,50,51,52,53,54,55,56,57,58,59],"paddingInner":0,"paddingOuter":0},"axis":{"values":[0,10,20,30,40,50],"labelAngle":0}},
"y":{"field":"y","type":"ordinal","title":null,"scale":{"domain":[0,1,2,3,4,5,6,7,8,9,10,11,12,13,14,15,16,17,18,19,20,21,22,23,24,25,26,27,28,29,30,31,32,33,34,35,36,37,38,39],"paddingInner":0,"paddingOuter":0},"axis":{"values":[0,5,10,15,20,25,30,35]}},
"color":{"field":"v","type":"quantitative","scale":{"domain":[0,25.4,63.5,100],"range":["#ffffff","#ffff00","#ff0000","#000000"],"interpolate":"rgb"},"legend":{"type":"gradient","title":null,"orient":"none","legendX":224,"legendY":-28,"direction":"vertical","gradientLength":197,"gradientThickness":10,"values":[0,20,40,60,80,100],"labelExpr":"format(datum.value/100,'.1f')"}}}},
{"width":210,"height":141,"data":{"name":"c"},"title":"(c) AutoSample(γ = 0.3)",
"transform":[{"flatten":["v"]},{"window":[{"op":"row_number","as":"x"}],"groupby":["y"]},{"filter":"datum.v > 0"}],
"mark":{"type":"rect","width":{"band":1.12},"height":{"band":1.12}},
"encoding":{
"x":{"field":"x","type":"ordinal","title":null,"scale":{"domain":[0,1,2,3,4,5,6,7,8,9,10,11,12,13,14,15,16,17,18,19,20,21,22,23,24,25,26,27,28,29,30,31,32,33,34,35,36,37,38,39,40,41,42,43,44,45,46,47,48,49,50,51,52,53,54,55,56,57,58,59],"paddingInner":0,"paddingOuter":0},"axis":{"values":[0,10,20,30,40,50],"labelAngle":0}},
"y":{"field":"y","type":"ordinal","title":null,"scale":{"domain":[0,1,2,3,4,5,6,7,8,9,10,11,12,13,14,15,16,17,18,19,20,21,22,23,24,25,26,27,28,29,30,31,32,33,34,35,36,37,38,39],"paddingInner":0,"paddingOuter":0},"axis":{"values":[0,5,10,15,20,25,30,35]}},
"color":{"field":"v","type":"quantitative","scale":{"domain":[0,25.4,63.5,100],"range":["#ffffff","#ffff00","#ff0000","#000000"],"interpolate":"rgb"},"legend":{"type":"gradient","title":null,"orient":"none","legendX":224,"legendY":-28,"direction":"vertical","gradientLength":197,"gradientThickness":10,"values":[0,20,40,60,80,100],"labelExpr":"format(datum.value/100,'.1f')"}}}},
{"width":210,"height":141,"data":{"name":"d"},"title":"(d) AutoSample(γ = 0.4)",
"transform":[{"flatten":["v"]},{"window":[{"op":"row_number","as":"x"}],"groupby":["y"]},{"filter":"datum.v > 0"}],
"mark":{"type":"rect","width":{"band":1.12},"height":{"band":1.12}},
"encoding":{
"x":{"field":"x","type":"ordinal","title":null,"scale":{"domain":[0,1,2,3,4,5,6,7,8,9,10,11,12,13,14,15,16,17,18,19,20,21,22,23,24,25,26,27,28,29,30,31,32,33,34,35,36,37,38,39,40,41,42,43,44,45,46,47,48,49,50,51,52,53,54,55,56,57,58,59],"paddingInner":0,"paddingOuter":0},"axis":{"values":[0,10,20,30,40,50],"labelAngle":0}},
"y":{"field":"y","type":"ordinal","title":null,"scale":{"domain":[0,1,2,3,4,5,6,7,8,9,10,11,12,13,14,15,16,17,18,19,20,21,22,23,24,25,26,27,28,29,30,31,32,33,34,35,36,37,38,39],"paddingInner":0,"paddingOuter":0},"axis":{"values":[0,5,10,15,20,25,30,35]}},
"color":{"field":"v","type":"quantitative","scale":{"domain":[0,25.4,63.5,100],"range":["#ffffff","#ffff00","#ff0000","#000000"],"interpolate":"rgb"},"legend":{"type":"gradient","title":null,"orient":"none","legendX":224,"legendY":-28,"direction":"vertical","gradientLength":197,"gradientThickness":10,"values":[0,20,40,60,80,100],"labelExpr":"format(datum.value/100,'.1f')"}}}},
{"width":210,"height":141,"data":{"name":"e"},"title":"(e) AutoSample(γ = 0.5)",
"transform":[{"flatten":["v"]},{"window":[{"op":"row_number","as":"x"}],"groupby":["y"]},{"filter":"datum.v > 0"}],
"mark":{"type":"rect","width":{"band":1.12},"height":{"band":1.12}},
"encoding":{
"x":{"field":"x","type":"ordinal","title":null,"scale":{"domain":[0,1,2,3,4,5,6,7,8,9,10,11,12,13,14,15,16,17,18,19,20,21,22,23,24,25,26,27,28,29,30,31,32,33,34,35,36,37,38,39,40,41,42,43,44,45,46,47,48,49,50,51,52,53,54,55,56,57,58,59],"paddingInner":0,"paddingOuter":0},"axis":{"values":[0,10,20,30,40,50],"labelAngle":0}},
"y":{"field":"y","type":"ordinal","title":null,"scale":{"domain":[0,1,2,3,4,5,6,7,8,9,10,11,12,13,14,15,16,17,18,19,20,21,22,23,24,25,26,27,28,29,30,31,32,33,34,35,36,37,38,39],"paddingInner":0,"paddingOuter":0},"axis":{"values":[0,5,10,15,20,25,30,35]}},
"color":{"field":"v","type":"quantitative","scale":{"domain":[0,25.4,63.5,100],"range":["#ffffff","#ffff00","#ff0000","#000000"],"interpolate":"rgb"},"legend":{"type":"gradient","title":null,"orient":"none","legendX":224,"legendY":-28,"direction":"vertical","gradientLength":197,"gradientThickness":10,"values":[0,20,40,60,80,100],"labelExpr":"format(datum.value/100,'.1f')"}}}},
{"width":210,"height":141,"data":{"name":"f"},"title":"(f) AutoSample(γ = 0.6)",
"transform":[{"flatten":["v"]},{"window":[{"op":"row_number","as":"x"}],"groupby":["y"]},{"filter":"datum.v > 0"}],
"mark":{"type":"rect","width":{"band":1.12},"height":{"band":1.12}},
"encoding":{
"x":{"field":"x","type":"ordinal","title":null,"scale":{"domain":[0,1,2,3,4,5,6,7,8,9,10,11,12,13,14,15,16,17,18,19,20,21,22,23,24,25,26,27,28,29,30,31,32,33,34,35,36,37,38,39,40,41,42,43,44,45,46,47,48,49,50,51,52,53,54,55,56,57,58,59],"paddingInner":0,"paddingOuter":0},"axis":{"values":[0,10,20,30,40,50],"labelAngle":0}},
"y":{"field":"y","type":"ordinal","title":null,"scale":{"domain":[0,1,2,3,4,5,6,7,8,9,10,11,12,13,14,15,16,17,18,19,20,21,22,23,24,25,26,27,28,29,30,31,32,33,34,35,36,37,38,39],"paddingInner":0,"paddingOuter":0},"axis":{"values":[0,5,10,15,20,25,30,35]}},
"color":{"field":"v","type":"quantitative","scale":{"domain":[0,25.4,63.5,100],"range":["#ffffff","#ffff00","#ff0000","#000000"],"interpolate":"rgb"},"legend":{"type":"gradient","title":null,"orient":"none","legendX":224,"legendY":-28,"direction":"vertical","gradientLength":197,"gradientThickness":10,"values":[0,20,40,60,80,100],"labelExpr":"format(datum.value/100,'.1f')"}}}}
]
}
